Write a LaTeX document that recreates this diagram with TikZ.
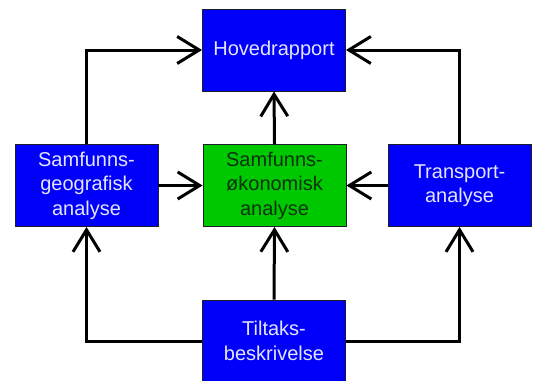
\documentclass[tikz,border=0pt]{standalone}
\usepackage{fontspec}
\setmainfont{Liberation Sans}
\usetikzlibrary{arrows.meta}
\definecolor{boxblue}{RGB}{0,0,250}
\definecolor{boxgreen}{RGB}{0,200,0}
\definecolor{boxline}{RGB}{30,30,40}
\definecolor{lighttext}{RGB}{228,228,255}
\definecolor{darktext}{RGB}{12,50,12}
\tikzset{
  box/.style={draw=boxline, line width=0.9pt, rectangle, minimum width=143pt, minimum height=82pt,
    inner sep=0pt, align=center, font=\fontsize{20}{24.5}\selectfont},
  bluebox/.style={box, fill=boxblue, text=lighttext},
  greenbox/.style={box, fill=boxgreen, text=darktext},
  arr/.style={line width=3pt, -{Straight Barb[length=22pt,width=27pt,line width=3pt]}},
  conn/.style={line width=3pt}
}
\begin{document}
\begin{tikzpicture}[x=1pt,y=-1pt]
\useasboundingbox (0,0) rectangle (534,380);
\fill[white] (0,0) rectangle (534,380);
\node[bluebox] (H) at (274,50) {Hovedrapport};
\node[bluebox] (L) at (86.5,185.5) {Samfunns-\\geografisk\\analyse};
\node[greenbox] (G) at (274.5,185.5) {Samfunns-\\økonomisk\\analyse};
\node[bluebox] (R) at (459.5,185.5) {Transport-\\analyse};
\node[bluebox] (T) at (274,341) {Tiltaks-\\beskrivelse};
\draw[arr] (L.north) |- (H.west);
\draw[arr] (R.north) |- (H.east);
\draw[arr] (G.north) -- (H.south);
\draw[arr] (L.east) -- (G.west);
\draw[arr] (R.west) -- (G.east);
\draw[arr] (T.north) -- (G.south);
\draw[arr] (T.west) -| (L.south);
\draw[arr] (T.east) -| (R.south);
\end{tikzpicture}
\end{document}
